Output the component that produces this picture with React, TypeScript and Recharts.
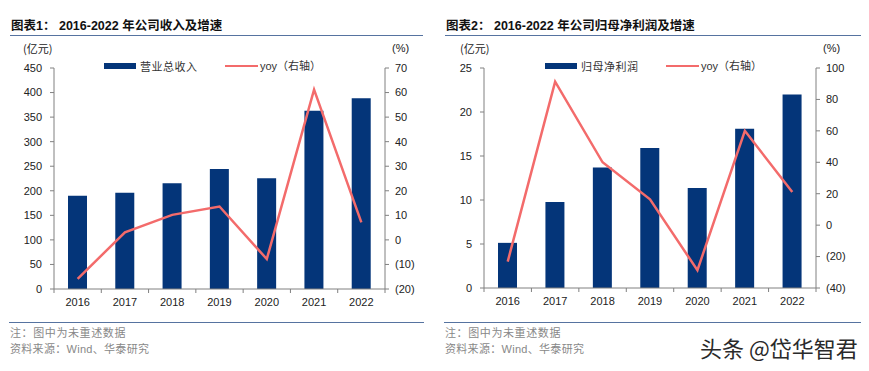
import { ComposedChart, Bar, Line, XAxis, YAxis } from "recharts"

const years = ["2016", "2017", "2018", "2019", "2020", "2021", "2022"]
const revenue = [190, 196, 215.5, 244.5, 225.5, 363, 388.5]
const revenueYoy = [-15.9, 3.1, 10.2, 13.6, -7.8, 61.2, 7.1]
const netProfit = [5.13, 9.76, 13.7, 15.9, 11.36, 18.1, 22.0]
const netProfitYoy = [-23.2, 91.3, 40, 16.4, -28.7, 60, 21.1]
const revenueTicks = [0, 50, 100, 150, 200, 250, 300, 350, 400, 450]
const revenueYoyTicks = [-20, -10, 0, 10, 20, 30, 40, 50, 60, 70]
const profitTicks = [0, 5, 10, 15, 20, 25]
const profitYoyTicks = [-40, -20, 0, 20, 40, 60, 80, 100]

const NAVY = "#043579"
const RED = "#f36b6b"
const AXIS = "#808080"
const RULE = "#5673a0"
const NUM_FONT = "'Liberation Sans', Arial, sans-serif"
const CJK_FONT = "'Noto Sans CJK SC', 'Liberation Sans', sans-serif"
const MIX_FONT = "'Liberation Sans', 'Noto Sans CJK SC', sans-serif"

const fmtPct = (v: number) => (v < 0 ? `(${-v})` : `${v}`)

// category label plus tick marks on the band edges
function YearTick(props: any) {
  const { x, y, payload, index, visibleTicksCount } = props
  const half = payload?.offset ?? 23.7
  const isLast = index === visibleTicksCount - 1
  return (
    <g>
      <line x1={x - half} x2={x - half} y1={y - 9} y2={y - 5} stroke={AXIS} />
      {isLast && <line x1={x + half} x2={x + half} y1={y - 9} y2={y - 5} stroke={AXIS} />}
      <text x={x} y={y} dy="0.71em" textAnchor="middle" fontSize={11} fill="#222" fontFamily={NUM_FONT}>
        {payload.value}
      </text>
    </g>
  )
}

interface PanelProps {
  left: number
  width: number
  margin: { top: number; right: number; bottom: number; left: number }
  title: string
  barName: string
  bars: number[]
  yoy: number[]
  leftTicks: number[]
  rightTicks: number[]
  legendX: number
  unitX: number
  pctX: number
}

function Panel(p: PanelProps) {
  const data = years.map((year, i) => ({ year, value: p.bars[i], yoy: p.yoy[i] }))
  const tickStyle = { fontSize: 11, fill: "#222", fontFamily: NUM_FONT }
  return (
    <>
      <div style={{ position: "absolute", left: p.left + 11, top: 17, fontSize: 12.5, fontWeight: "bold", fontFamily: MIX_FONT, lineHeight: "18px", color: "#111", whiteSpace: "nowrap" }}>
        {p.title}
      </div>
      <div style={{ position: "absolute", left: p.left + 10, top: 35, width: p.width - 17, height: 1, background: RULE }} />
      <div style={{ position: "absolute", left: p.unitX, top: 41, fontSize: 11, fontFamily: CJK_FONT, lineHeight: "14px", color: "#222" }}>(亿元)</div>
      <div style={{ position: "absolute", left: p.pctX, top: 41, fontSize: 11, fontFamily: NUM_FONT, lineHeight: "14px", color: "#222" }}>(%)</div>
      <div style={{ position: "absolute", left: p.left, top: 0 }}>
        <ComposedChart width={p.width} height={320} data={data} margin={p.margin}>
          <XAxis
            dataKey="year"
            height={24}
            stroke={AXIS}
            tickLine={false}
            tickSize={0}
            tickMargin={9}
            tick={<YearTick />}
            interval={0}
          />
          <YAxis
            yAxisId="left"
            width={45}
            domain={[p.leftTicks[0], p.leftTicks[p.leftTicks.length - 1]]}
            ticks={p.leftTicks}
            stroke={AXIS}
            tickSize={4}
            tickMargin={8}
            tick={tickStyle}
            interval={0}
          />
          <YAxis
            yAxisId="right"
            orientation="right"
            width={40}
            domain={[p.rightTicks[0], p.rightTicks[p.rightTicks.length - 1]]}
            ticks={p.rightTicks}
            tickFormatter={fmtPct}
            stroke={AXIS}
            tickSize={4}
            tickMargin={6}
            tick={tickStyle}
            interval={0}
          />
          <Bar yAxisId="left" dataKey="value" fill={NAVY} barSize={19} isAnimationActive={false} />
          <Line yAxisId="right" dataKey="yoy" type="linear" stroke={RED} strokeWidth={2.5} dot={false} isAnimationActive={false} />
        </ComposedChart>
      </div>
      {/* legend */}
      <div style={{ position: "absolute", left: p.legendX, top: 63, width: 32, height: 6, background: NAVY }} />
      <div style={{ position: "absolute", left: p.legendX + 36, top: 58, fontSize: 11, fontFamily: CJK_FONT, lineHeight: "16px", color: "#333", letterSpacing: 0.5 }}>{p.barName}</div>
      <div style={{ position: "absolute", left: p.legendX + 121, top: 65, width: 33, height: 2, background: RED }} />
      <div style={{ position: "absolute", left: p.legendX + 156, top: 58, fontSize: 11, fontFamily: MIX_FONT, lineHeight: "16px", color: "#333", whiteSpace: "nowrap" }}>yoy（右轴）</div>
      {/* footer */}
      <div style={{ position: "absolute", left: p.left + 9, top: 322, width: p.width - 15, height: 1, background: RULE }} />
      <div style={{ position: "absolute", left: p.left + 10, top: 324, fontSize: 11, fontFamily: CJK_FONT, lineHeight: "16px", color: "#888", letterSpacing: 0.6 }}>注：图中为未重述数据</div>
      <div style={{ position: "absolute", left: p.left + 10, top: 341, fontSize: 11, fontFamily: MIX_FONT, lineHeight: "16px", color: "#888", letterSpacing: 0.3 }}>资料来源：Wind、华泰研究</div>
    </>
  )
}

export default function App() {
  return (
    <div style={{ position: "relative", width: 869, height: 371, background: "#fff", margin: -8, overflow: "hidden" }}>
      <Panel
        left={0}
        width={430}
        margin={{ top: 68, right: 5, bottom: 7, left: 9 }}
        title="图表1： 2016-2022 年公司收入及增速"
        barName="营业总收入"
        bars={revenue}
        yoy={revenueYoy}
        leftTicks={revenueTicks}
        rightTicks={revenueYoyTicks}
        legendX={104}
        unitX={23}
        pctX={392}
      />
      <Panel
        left={435}
        width={434}
        margin={{ top: 68, right: 13, bottom: 8, left: 4 }}
        title="图表2： 2016-2022 年公司归母净利润及增速"
        barName="归母净利润"
        bars={netProfit}
        yoy={netProfitYoy}
        leftTicks={profitTicks}
        rightTicks={profitYoyTicks}
        legendX={545}
        unitX={460}
        pctX={823}
      />
      <div style={{ position: "absolute", left: 700, top: 334, fontSize: 22, fontFamily: CJK_FONT, lineHeight: "27px", color: "#2a2a2a", whiteSpace: "nowrap" }}>
        头条 @岱华智君
      </div>
    </div>
  )
}
